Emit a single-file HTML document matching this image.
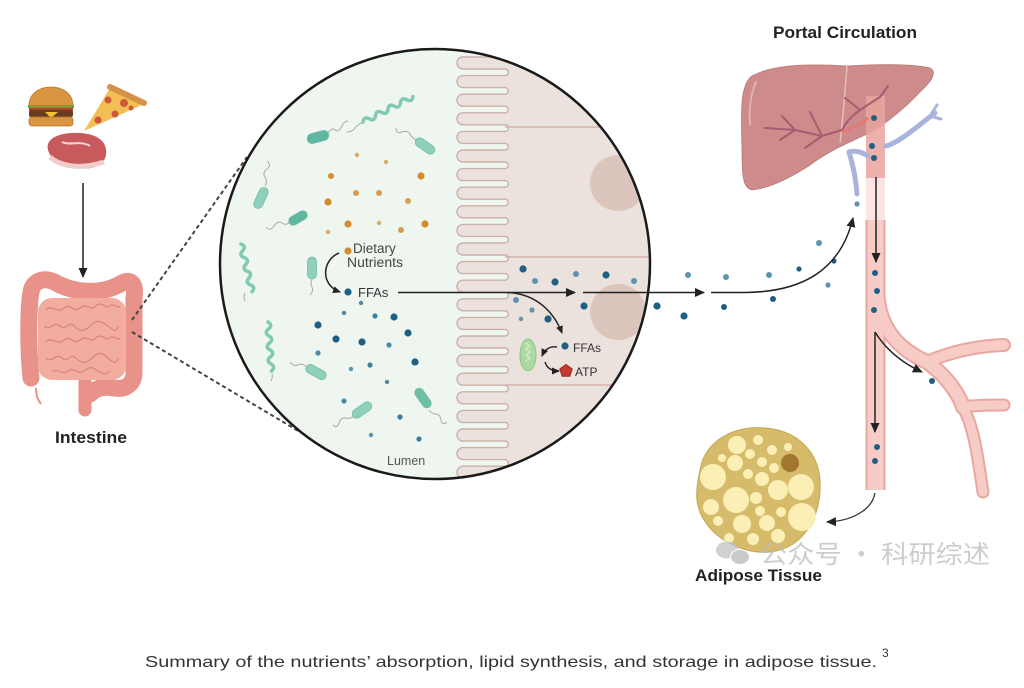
<!DOCTYPE html>
<html><head><meta charset="utf-8"><style>
html,body{margin:0;padding:0;background:#fff;}
svg{display:block;}
text{font-family:"Liberation Sans","Noto Sans CJK SC",sans-serif;}
</style></head><body>
<svg width="1024" height="688" viewBox="0 0 1024 688" xmlns="http://www.w3.org/2000/svg">
<defs>
<marker id="ah" markerWidth="10" markerHeight="9" refX="9" refY="4.5" orient="auto" markerUnits="userSpaceOnUse"><path d="M0,0 L10,4.5 L0,9 Z" fill="#222"/></marker>
<marker id="ahs" markerWidth="8" markerHeight="7" refX="7" refY="3.5" orient="auto" markerUnits="userSpaceOnUse"><path d="M0,0 L8,3.5 L0,7 Z" fill="#222"/></marker>
<clipPath id="cc"><circle cx="435" cy="264" r="215"/></clipPath>
</defs>
<rect width="1024" height="688" fill="#fff"/>

<!-- Food -->
<g>
<path d="M29,106 C29,93 40,87 51,87 C62,87 73,93 73,106 Z" fill="#d9953f" stroke="#b87a30" stroke-width="0.8"/>
<rect x="28" y="105" width="46" height="3" fill="#7d9c34"/>
<rect x="29" y="108" width="44" height="2.5" fill="#c0392b"/>
<rect x="29" y="110" width="44" height="7" rx="2" fill="#6b3b22"/>
<path d="M45,112 L58,112 L51,118 Z" fill="#f2c230"/>
<rect x="29" y="117" width="44" height="9" rx="3" fill="#d9953f" stroke="#b87a30" stroke-width="0.8"/>
<polygon points="84,131 110,88 144,104" fill="#f2bf55"/>
<line x1="110" y1="87" x2="144" y2="103" stroke="#d7924a" stroke-width="6" stroke-linecap="round"/>
<circle cx="108" cy="100" r="3.5" fill="#d0563c"/>
<circle cx="124" cy="103" r="4" fill="#d0563c"/>
<circle cx="98" cy="120" r="3.5" fill="#d0563c"/>
<circle cx="115" cy="114" r="3.5" fill="#d0563c"/>
<circle cx="131" cy="108" r="2.5" fill="#d0563c"/>
<path d="M48,150 C45,138 60,132 80,133 C98,134 108,142 106,155 C104,166 92,170 78,168 C65,167 52,163 48,150 Z" fill="#c85a5e"/>
<path d="M50,157 C60,166 80,170 104,162" stroke="#f0cccc" stroke-width="5" fill="none"/>
<path d="M62,142 C70,146 80,140 90,146" stroke="#f3d6d6" stroke-width="2" fill="none"/>
</g>
<line x1="83" y1="183" x2="83" y2="277" stroke="#222" stroke-width="1.5" marker-end="url(#ah)"/>

<!-- Intestine -->
<g>
<path d="M50,277 L55,288" stroke="#f0a48f" stroke-width="7" stroke-linecap="round"/>
<path d="M31,378 C28,350 28,310 31,292 C33,280 45,276 58,284 C78,294 104,294 122,283 C132,278 136,285 134,298 L134,372 C134,384 126,390 114,388 C104,386 96,388 90,394" stroke="#e8928a" stroke-width="17" fill="none" stroke-linecap="round"/>
<path d="M85,382 L85,410" stroke="#e8928a" stroke-width="13" stroke-linecap="round"/>
<path d="M36,388 C36,396 38,400 41,404" stroke="#e8928a" stroke-width="2" fill="none"/>
<rect x="38" y="298" width="88" height="82" rx="14" fill="#f3ad9f"/>
<g stroke="#dc8a80" stroke-width="1.4" fill="none">
<path d="M46,310 c6,-6 12,4 18,-2 s10,6 16,0 s10,4 16,-2 s10,4 14,0 s8,4 10,0"/>
<path d="M44,326 c6,6 10,-6 16,0 s8,-6 14,0 s10,6 16,0 s10,-6 18,0 s8,6 10,0"/>
<path d="M46,342 c6,-6 12,4 18,-2 s10,6 16,0 s10,4 16,-2 s10,4 14,0 s8,4 10,0"/>
<path d="M46,358 c6,6 10,-6 16,0 s8,-6 14,0 s10,6 16,0 s10,-6 16,0 s8,6 10,0"/>
<path d="M52,372 c6,-5 10,4 16,-1 s10,5 16,0 s8,-4 14,0 s8,4 12,0"/>
</g>
</g>
<text x="91" y="443" font-size="17" font-weight="bold" fill="#222" text-anchor="middle" textLength="72" lengthAdjust="spacingAndGlyphs">Intestine</text>

<!-- Dashed zoom lines -->
<line x1="132" y1="320" x2="247" y2="157" stroke="#444" stroke-width="2" stroke-dasharray="4 3"/>
<line x1="132" y1="332" x2="305" y2="435" stroke="#444" stroke-width="2" stroke-dasharray="4 3"/>

<!-- Magnified circle -->
<g clip-path="url(#cc)">
<rect x="210" y="40" width="460" height="450" fill="#eff6f0"/>
<path d="M505,40V57h-42a6 6 0 0 0 0 12h42a3.3 3.3 0 0 1 0 6.6h-42a6 6 0 0 0 0 12h42a3.3 3.3 0 0 1 0 6.6h-42a6 6 0 0 0 0 12h42a3.3 3.3 0 0 1 0 6.6h-42a6 6 0 0 0 0 12h42a3.3 3.3 0 0 1 0 6.6h-42a6 6 0 0 0 0 12h42a3.3 3.3 0 0 1 0 6.6h-42a6 6 0 0 0 0 12h42a3.3 3.3 0 0 1 0 6.6h-42a6 6 0 0 0 0 12h42a3.3 3.3 0 0 1 0 6.6h-42a6 6 0 0 0 0 12h42a3.3 3.3 0 0 1 0 6.6h-42a6 6 0 0 0 0 12h42a3.3 3.3 0 0 1 0 6.6h-42a6 6 0 0 0 0 12h42a3.3 3.3 0 0 1 0 6.6h-42a6 6 0 0 0 0 12h42a3.3 3.3 0 0 1 0 6.6h-42a6 6 0 0 0 0 12h42a3.3 3.3 0 0 1 0 6.6h-42a6 6 0 0 0 0 12h42a3.3 3.3 0 0 1 0 6.6h-42a6 6 0 0 0 0 12h42a3.3 3.3 0 0 1 0 6.6h-42a6 6 0 0 0 0 12h42a3.3 3.3 0 0 1 0 6.6h-42a6 6 0 0 0 0 12h42a3.3 3.3 0 0 1 0 6.6h-42a6 6 0 0 0 0 12h42a3.3 3.3 0 0 1 0 6.6h-42a6 6 0 0 0 0 12h42a3.3 3.3 0 0 1 0 6.6h-42a6 6 0 0 0 0 12h42a3.3 3.3 0 0 1 0 6.6h-42a6 6 0 0 0 0 12h42a3.3 3.3 0 0 1 0 6.6h-42a6 6 0 0 0 0 12h42a3.3 3.3 0 0 1 0 6.6h-42a6 6 0 0 0 0 12h42a3.3 3.3 0 0 1 0 6.6h-42a6 6 0 0 0 0 12h42a3.3 3.3 0 0 1 0 6.6V500H680V40Z" fill="#ebe2dd"/>
<path d="M505,57h-42a6 6 0 0 0 0 12h42a3.3 3.3 0 0 1 0 6.6h-42a6 6 0 0 0 0 12h42a3.3 3.3 0 0 1 0 6.6h-42a6 6 0 0 0 0 12h42a3.3 3.3 0 0 1 0 6.6h-42a6 6 0 0 0 0 12h42a3.3 3.3 0 0 1 0 6.6h-42a6 6 0 0 0 0 12h42a3.3 3.3 0 0 1 0 6.6h-42a6 6 0 0 0 0 12h42a3.3 3.3 0 0 1 0 6.6h-42a6 6 0 0 0 0 12h42a3.3 3.3 0 0 1 0 6.6h-42a6 6 0 0 0 0 12h42a3.3 3.3 0 0 1 0 6.6h-42a6 6 0 0 0 0 12h42a3.3 3.3 0 0 1 0 6.6h-42a6 6 0 0 0 0 12h42a3.3 3.3 0 0 1 0 6.6h-42a6 6 0 0 0 0 12h42a3.3 3.3 0 0 1 0 6.6h-42a6 6 0 0 0 0 12h42a3.3 3.3 0 0 1 0 6.6h-42a6 6 0 0 0 0 12h42a3.3 3.3 0 0 1 0 6.6h-42a6 6 0 0 0 0 12h42a3.3 3.3 0 0 1 0 6.6h-42a6 6 0 0 0 0 12h42a3.3 3.3 0 0 1 0 6.6h-42a6 6 0 0 0 0 12h42a3.3 3.3 0 0 1 0 6.6h-42a6 6 0 0 0 0 12h42a3.3 3.3 0 0 1 0 6.6h-42a6 6 0 0 0 0 12h42a3.3 3.3 0 0 1 0 6.6h-42a6 6 0 0 0 0 12h42a3.3 3.3 0 0 1 0 6.6h-42a6 6 0 0 0 0 12h42a3.3 3.3 0 0 1 0 6.6h-42a6 6 0 0 0 0 12h42a3.3 3.3 0 0 1 0 6.6h-42a6 6 0 0 0 0 12h42a3.3 3.3 0 0 1 0 6.6h-42a6 6 0 0 0 0 12h42a3.3 3.3 0 0 1 0 6.6" fill="none" stroke="#c9b1a9" stroke-width="1.4"/>
<g stroke="#d6a8a2" stroke-width="1.2">
<line x1="505" y1="127" x2="670" y2="127"/>
<line x1="505" y1="257" x2="670" y2="257"/>
<line x1="505" y1="385" x2="670" y2="385"/>
</g>
<circle cx="618" cy="183" r="28" fill="#dcc5bd"/>
<circle cx="618" cy="312" r="28" fill="#dcc5bd"/>

<!-- bacteria -->
<g stroke="#a9a9a9" stroke-width="1" fill="none">
<path d="M328,133 q4,-6 7,-3 t7,-4 t6,-4"/>
<path d="M416,140 q-4,-2 -6,-6 t-8,-2 t-6,-4"/>
<path d="M265,186 q3,-5 0,-9 t2,-8 t0,-8"/>
<path d="M290,222 q-4,4 -8,1 t-8,3 t-8,1"/>
<path d="M312,279 q-2,4 0,8 t-2,8"/>
<path d="M306,366 q-4,-3 -8,-1 t-8,-3"/>
<path d="M353,417 q-4,2 -8,1 t-6,5 t-6,2"/>
<path d="M429,410 q3,4 7,4 t5,6 t6,2"/>
<path d="M245,293 q-2,4 0,8"/>
<path d="M272,373 q1,4 -1,8"/>
<path d="M364,122 q-6,2 -9,6 t-8,4"/>
</g>
<g fill="#8ed0bb" stroke="#74bda5" stroke-width="0.8">
<rect x="-11" y="-5" width="22" height="10" rx="5" transform="translate(318,137) rotate(-15)" fill="#5fb79f"/>
<rect x="-11" y="-4.5" width="22" height="9" rx="4.5" transform="translate(425,146) rotate(35)"/>
<rect x="-11" y="-4.5" width="22" height="9" rx="4.5" transform="translate(261,198) rotate(-65)"/>
<rect x="-10" y="-4.5" width="20" height="9" rx="4.5" transform="translate(298,218) rotate(-30)" fill="#5fb79f"/>
<rect x="-11" y="-4.5" width="22" height="9" rx="4.5" transform="translate(312,268) rotate(90)"/>
<rect x="-11" y="-4.5" width="22" height="9" rx="4.5" transform="translate(316,372) rotate(28)"/>
<rect x="-11" y="-4.5" width="22" height="9" rx="4.5" transform="translate(362,410) rotate(-35)"/>
<rect x="-11" y="-4.5" width="22" height="9" rx="4.5" transform="translate(423,398) rotate(55)" fill="#6fbfa6"/>
</g>
<g stroke="#80c9b2" stroke-width="3.5" fill="none" stroke-linecap="round">
<path d="M0,0 q3.5,-5 7,0 t7,0 t7,0 t7,0 t7,0 t7,0 t7,0 t7,0" transform="translate(363,122) rotate(-27)"/>
<path d="M0,0 q3.5,-5 7,0 t7,0 t7,0 t7,0 t7,0 t7,0 t7,0" transform="translate(241,244) rotate(77)"/>
<path d="M0,0 q3.5,-5 7,0 t7,0 t7,0 t7,0 t7,0 t7,0 t7,0" transform="translate(268,322) rotate(86)"/>
</g>

<!-- orange nutrients -->
<g fill="#cf8f2f">
<circle cx="357" cy="155" r="2.2" fill="#d9ab66"/>
<circle cx="386" cy="162" r="2.2" fill="#d9ab66"/>
<circle cx="331" cy="176" r="3"/>
<circle cx="421" cy="176" r="3.6"/>
<circle cx="356" cy="193" r="3" fill="#d49f50"/>
<circle cx="379" cy="193" r="3" fill="#d49f50"/>
<circle cx="328" cy="202" r="3.6"/>
<circle cx="408" cy="201" r="3" fill="#d49f50"/>
<circle cx="348" cy="224" r="3.6"/>
<circle cx="379" cy="223" r="2.2" fill="#d9ab66"/>
<circle cx="401" cy="230" r="3" fill="#d49f50"/>
<circle cx="425" cy="224" r="3.6"/>
<circle cx="328" cy="232" r="2.2" fill="#d9ab66"/>
<circle cx="348" cy="251" r="3.6"/>
</g>

<!-- blue FFAs lumen -->
<g fill="#1f5f84">
<circle cx="348" cy="292" r="3.6"/>
<circle cx="361" cy="303" r="2.2" fill="#4f88a5"/>
<circle cx="344" cy="313" r="2.2" fill="#4f88a5"/>
<circle cx="375" cy="316" r="2.6" fill="#3f7d9c"/>
<circle cx="394" cy="317" r="3.6"/>
<circle cx="318" cy="325" r="3.6"/>
<circle cx="408" cy="333" r="3.6"/>
<circle cx="336" cy="339" r="3.6"/>
<circle cx="362" cy="342" r="3.6"/>
<circle cx="389" cy="345" r="2.6" fill="#4f88a5"/>
<circle cx="318" cy="353" r="2.6" fill="#4f88a5"/>
<circle cx="370" cy="365" r="2.6" fill="#3f7d9c"/>
<circle cx="415" cy="362" r="3.6"/>
<circle cx="351" cy="369" r="2.2" fill="#5d93ab"/>
<circle cx="387" cy="382" r="2.2" fill="#4f88a5"/>
<circle cx="344" cy="401" r="2.6" fill="#4f88a5"/>
<circle cx="400" cy="417" r="2.6" fill="#3f7d9c"/>
<circle cx="371" cy="435" r="2.2" fill="#5d93ab"/>
<circle cx="419" cy="439" r="2.6" fill="#3f7d9c"/>
</g>

<!-- in cell -->
<g fill="#1f5f84">
<circle cx="523" cy="269" r="3.6"/>
<circle cx="535" cy="281" r="3" fill="#5d93ab"/>
<circle cx="555" cy="282" r="3.6"/>
<circle cx="576" cy="274" r="3" fill="#5d93ab"/>
<circle cx="606" cy="275" r="3.6"/>
<circle cx="634" cy="281" r="3" fill="#5d93ab"/>
<circle cx="516" cy="300" r="3" fill="#5d93ab"/>
<circle cx="532" cy="310" r="2.6" fill="#5d93ab"/>
<circle cx="521" cy="319" r="2.2" fill="#5d93ab"/>
<circle cx="548" cy="319" r="3.6"/>
<circle cx="584" cy="306" r="3.6"/>
<circle cx="565" cy="346" r="3.6"/>
</g>
<ellipse cx="528" cy="355" rx="8" ry="16" fill="#acd9a3" stroke="#8cc585" stroke-width="1"/>
<path d="M526,343 l4,3 l-4,3 l4,3 l-4,3 l4,3 l-4,3" stroke="#d7eed2" stroke-width="1.2" fill="none"/>
<polygon points="566,364.5 572.2,369 569.8,376.3 562.2,376.3 559.8,369" fill="#c43a2f" stroke="#9e2a22" stroke-width="1"/>
</g>
<circle cx="435" cy="264" r="215" fill="none" stroke="#1a1a1a" stroke-width="2.5"/>

<!-- circle labels -->
<text x="353" y="253" font-size="13.5" fill="#444">Dietary</text>
<text x="347" y="267" font-size="13.5" fill="#444" textLength="56" lengthAdjust="spacingAndGlyphs">Nutrients</text>
<text x="358" y="297" font-size="13" fill="#333">FFAs</text>
<text x="387" y="465" font-size="12.5" fill="#555">Lumen</text>
<text x="573" y="352" font-size="12" fill="#333">FFAs</text>
<text x="575" y="376" font-size="12" fill="#333">ATP</text>

<!-- arrows in circle -->
<path d="M339,253 C322,260 320,285 340,292" stroke="#222" stroke-width="1.5" fill="none" marker-end="url(#ahs)"/>
<line x1="398" y1="292.5" x2="575" y2="292.5" stroke="#222" stroke-width="1.5" marker-end="url(#ah)"/>
<path d="M508,292.5 C535,294 553,310 562,333" stroke="#222" stroke-width="1.5" fill="none" marker-end="url(#ahs)"/>
<path d="M557,347 C550,346 545,349 542,356" stroke="#222" stroke-width="1.4" fill="none" marker-end="url(#ahs)"/>
<path d="M545,362 C547,368 551,371 559,371" stroke="#222" stroke-width="1.4" fill="none" marker-end="url(#ahs)"/>

<!-- outside dots -->
<g fill="#1f5f84">
<circle cx="657" cy="306" r="3.6"/>
<circle cx="684" cy="316" r="3.6"/>
<circle cx="688" cy="275" r="3" fill="#5d93ab"/>
<circle cx="726" cy="277" r="3" fill="#5d93ab"/>
<circle cx="724" cy="307" r="3"/>
<circle cx="769" cy="275" r="3" fill="#5d93ab"/>
<circle cx="773" cy="299" r="3"/>
<circle cx="799" cy="269" r="2.6"/>
<circle cx="819" cy="243" r="3" fill="#5d93ab"/>
<circle cx="834" cy="261" r="2.6"/>
<circle cx="828" cy="285" r="2.6" fill="#5d93ab"/>
<circle cx="857" cy="204" r="2.6" fill="#5d93ab"/>
</g>
<line x1="583" y1="292.5" x2="704" y2="292.5" stroke="#222" stroke-width="1.5" marker-end="url(#ah)"/>
<path d="M711,292.5 L745,292.5 C800,292 840,272 853,218" stroke="#222" stroke-width="1.5" fill="none" marker-end="url(#ah)"/>

<!-- Portal circulation -->
<text x="773" y="38" font-size="17" font-weight="bold" fill="#222" textLength="144" lengthAdjust="spacingAndGlyphs">Portal Circulation</text>
<path d="M752,76 C770,66 800,63 847,66 C880,64 915,64 930,68 C937,72 933,80 920,92 C905,108 885,125 867,134 C850,142 830,150 810,165 C790,178 770,188 752,190 C743,188 742,176 742,150 C741,110 740,85 752,76 Z" fill="#cd8b8b" stroke="#ba7676" stroke-width="0.8"/>
<path d="M756,82 C750,95 749,110 750,125" stroke="#e3b1b1" stroke-width="2" fill="none" stroke-linecap="round"/>
<path d="M847,66 C845,90 843,120 840,143" stroke="#e8bdbd" stroke-width="1.5" fill="none"/>
<rect x="866" y="96" width="19" height="82" fill="#e9a39d" opacity="0.85"/>
<rect x="866" y="178" width="19" height="42" fill="#f7d3cf" opacity="0.6"/>
<g stroke="#a35c70" stroke-width="2" fill="none" stroke-linecap="round">
<path d="M765,128 L795,130 L822,136 L842,130"/>
<path d="M782,116 L795,130"/>
<path d="M805,148 L822,136"/>
<path d="M780,140 L795,130"/>
<path d="M842,130 C850,115 860,110 880,97"/>
<path d="M860,110 L845,98"/>
<path d="M880,97 L888,86"/>
<path d="M810,112 L822,136"/>
</g>
<path d="M842,132 C852,128 860,125 868,118" stroke="#e27b76" stroke-width="3" fill="none"/>
<g stroke="#a9b3dc" stroke-width="5" fill="none" stroke-linecap="round">
<path d="M857,194 C856,180 853,165 849,152"/>
<path d="M849,152 C856,150 862,152 868,156"/>
<path d="M886,146 C900,142 915,128 935,113"/>
<path d="M930,116 L941,119" stroke-width="3"/>
<path d="M930,116 L937,105" stroke-width="3"/>
</g>
<g fill="#1f5f84">
<circle cx="874" cy="118" r="3"/>
<circle cx="872" cy="146" r="3"/>
<circle cx="874" cy="158" r="3"/>
</g>

<!-- vessels -->
<g fill="none" stroke-linecap="round">
<g stroke="#eaa7a1">
<path d="M875.5,220 V490" stroke-width="20" stroke-linecap="butt"/>
<path d="M878,300 C882,335 905,352 927,362 C945,375 958,392 963,407" stroke-width="16"/>
<path d="M927,362 C950,352 975,346 1004,345" stroke-width="14"/>
<path d="M963,407 C975,405 990,405 1004,405" stroke-width="13"/>
<path d="M963,407 C975,430 978,460 983,492" stroke-width="13"/>
</g>
<g stroke="#f7cbc6">
<path d="M875.5,220 V490" stroke-width="16" stroke-linecap="butt"/>
<path d="M878,300 C882,335 905,352 927,362 C945,375 958,392 963,407" stroke-width="12"/>
<path d="M927,362 C950,352 975,346 1004,345" stroke-width="10"/>
<path d="M963,407 C975,405 990,405 1004,405" stroke-width="9"/>
<path d="M963,407 C975,430 978,460 983,492" stroke-width="9"/>
</g>
</g>
<g fill="#1f5f84">
<circle cx="875" cy="273" r="3"/>
<circle cx="877" cy="291" r="3"/>
<circle cx="874" cy="310" r="3"/>
<circle cx="877" cy="447" r="3"/>
<circle cx="875" cy="461" r="3"/>
<circle cx="932" cy="381" r="3"/>
</g>
<line x1="876" y1="177" x2="876" y2="262" stroke="#222" stroke-width="1.5" marker-end="url(#ah)"/>
<line x1="875" y1="332" x2="875" y2="432" stroke="#222" stroke-width="1.5" marker-end="url(#ah)"/>
<path d="M875,332 C885,348 900,362 922,372" stroke="#222" stroke-width="1.5" fill="none" marker-end="url(#ah)"/>
<path d="M875,493 C872,510 852,521 827,522" stroke="#333" stroke-width="1.3" fill="none" marker-end="url(#ah)"/>

<!-- Adipose -->
<path d="M700,470 C705,440 735,425 765,428 C795,430 818,450 820,480 C822,515 805,548 770,552 C735,555 700,530 697,500 C696,490 698,480 700,470 Z" fill="#d6bb6a" stroke="#c4a650" stroke-width="1"/>
<g fill="#fbefb6">
<circle cx="737" cy="445" r="9"/>
<circle cx="758" cy="440" r="5"/>
<circle cx="772" cy="450" r="5"/>
<circle cx="750" cy="454" r="5"/>
<circle cx="713" cy="477" r="13"/>
<circle cx="735" cy="463" r="8"/>
<circle cx="762" cy="462" r="5"/>
<circle cx="774" cy="468" r="5"/>
<circle cx="748" cy="474" r="5"/>
<circle cx="762" cy="479" r="7"/>
<circle cx="736" cy="500" r="13"/>
<circle cx="778" cy="490" r="10"/>
<circle cx="801" cy="487" r="13"/>
<circle cx="711" cy="507" r="8"/>
<circle cx="756" cy="498" r="6"/>
<circle cx="760" cy="511" r="5"/>
<circle cx="802" cy="517" r="14"/>
<circle cx="742" cy="524" r="9"/>
<circle cx="767" cy="523" r="8"/>
<circle cx="781" cy="512" r="5"/>
<circle cx="718" cy="521" r="5"/>
<circle cx="753" cy="539" r="6"/>
<circle cx="778" cy="536" r="7"/>
<circle cx="729" cy="538" r="5"/>
<circle cx="788" cy="447" r="4"/>
<circle cx="722" cy="458" r="4"/>
</g>
<circle cx="790" cy="463" r="9" fill="#a27530"/>
<text x="695" y="581" font-size="17" font-weight="bold" fill="#222" textLength="127" lengthAdjust="spacingAndGlyphs">Adipose Tissue</text>

<!-- watermark -->
<g opacity="0.75">
<ellipse cx="727" cy="550" rx="11" ry="8.5" fill="#c2c2c2"/>
<ellipse cx="740" cy="557" rx="9.5" ry="7.5" fill="#b9b9b9" stroke="#fff" stroke-width="1"/>
<text x="760" y="563" font-size="25" fill="#bdbdbd" textLength="230" lengthAdjust="spacingAndGlyphs" style="font-family:'Noto Sans CJK SC','WenQuanYi Zen Hei',sans-serif">公众号 · 科研综述</text>
</g>

<!-- caption -->
<text x="145" y="667" font-size="16" fill="#333" textLength="732" lengthAdjust="spacingAndGlyphs">Summary of the nutrients’  absorption, lipid synthesis, and storage in adipose tissue.</text>
<text x="882" y="657" font-size="12" fill="#333">3</text>
</svg>
</body></html>
